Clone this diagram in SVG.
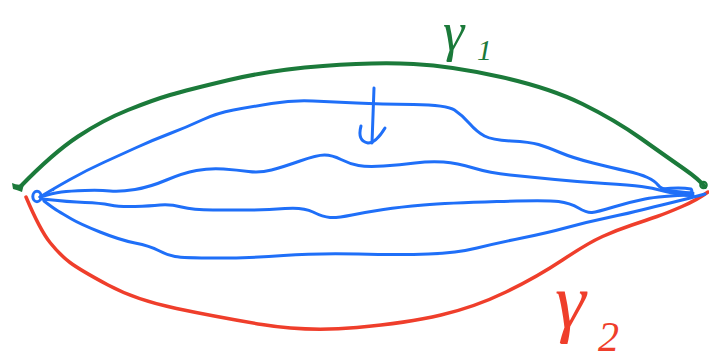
<svg xmlns="http://www.w3.org/2000/svg" width="709" height="361" viewBox="0 0 709 361">
<style>
.g{fill:none;stroke:#1b7a3a;stroke-width:4;stroke-linecap:round;stroke-linejoin:round}
.r{fill:none;stroke:#ef3e2b;stroke-width:3.5;stroke-linecap:round;stroke-linejoin:round}
.b{fill:none;stroke:#1f6ff8;stroke-width:3;stroke-linecap:round;stroke-linejoin:round}
.lbl{font-family:"Liberation Serif","DejaVu Serif",serif;font-style:italic}
</style>
<rect width="709" height="361" fill="#ffffff"/>
<g id="gamma1">
<path class="g" d="M20,187 Q53,153 78,136.5 Q103,120 128,110 Q153,100 170,95 Q187,90 229,80 Q271,70 323,66 Q375,62 413.5,64 Q452,66 501,77 Q550,88 582.5,104 Q615,120 641,138.5 Q667,157 683.5,168.5 Q700,180 705,187"/>
<path d="M12,183 Q18,186 24,184 L22,192 Q17,190 13,189 Z" fill="#1b7a3a"/>
<circle cx="703.5" cy="185" r="3.2" fill="none" stroke="#1b7a3a" stroke-width="2.2"/>
</g>
<g id="gamma2">
<path class="r" d="M26,197 Q40,230 50,242.5 Q60,255 70,262.5 Q80,270 108,285 Q136,300 176.5,308.5 Q217,317 262,324.5 Q307,332 357,327.5 Q407,323 441,315 Q475,307 506,292 Q537,277 562.5,260 Q588,243 602.5,236.5 Q617,230 632,225 Q647,220 657,216.5 Q667,213 682,206.5 Q697,200 708,192"/>
</g>
<g id="homotopy">
<ellipse class="b" cx="37" cy="196.5" rx="4.2" ry="5.2"/>
<circle cx="53" cy="190" r="1.3" fill="#1f6ff8"/>
<path class="b" d="M40,197 Q53,189 70,179.5 Q87,170 103.5,162.5 Q120,155 136.5,147.5 Q153,140 170,133.5 Q187,127 202,120 Q217,113 233.5,110 Q250,107 271.5,103.5 Q293,100 313,101 Q333,102 356.5,103 Q380,104 413.5,104.5 Q447,105 454.5,110 Q462,115 469.5,123.5 Q477,132 484.5,136 Q492,140 511,141 Q530,142 538.5,144.5 Q547,147 560,152.5 Q573,158 593,163 Q613,168 626.5,171 Q640,174 647.5,177.5 Q655,181 658,185 Q661,189 669,190.5 Q677,192 693,193"/>
<path class="b" d="M40,197 Q53,193 61.5,192 Q70,191 85,190.5 Q100,190 110,191 Q120,192 135,189.5 Q150,187 166.5,180 Q183,173 196.5,170.5 Q210,168 223.5,169 Q237,170 248.5,171.5 Q260,173 271.5,170 Q283,167 300,161 Q317,155 324.5,155 Q332,155 341,159.5 Q350,164 358.5,165.5 Q367,167 383.5,166 Q400,165 415,163 Q430,161 443.5,162 Q457,163 473.5,168 Q490,173 510,175 Q530,177 555,179.5 Q580,182 605,183.5 Q630,185 641.5,186.5 Q653,188 661.5,190.5 Q670,193 693,196"/>
<path class="b" d="M42,199 Q70,202 85,202.5 Q100,203 110,205 Q120,207 135,206.5 Q150,206 160,205 Q170,204 181.5,207 Q193,210 213,210 Q233,210 250,210 Q267,210 285,208.5 Q303,207 313,212 Q323,217 330,217.5 Q337,218 352,215 Q367,212 383.5,209.5 Q400,207 423.5,205 Q447,203 497,201.5 Q547,200 558.5,201.5 Q570,203 578.5,208 Q587,213 592,212.5 Q597,212 613.5,207 Q630,202 645,199 Q660,196 693,195"/>
<path class="b" d="M44,201 Q53,208 58,211 Q63,214 71.5,219 Q80,224 100,232 Q120,240 135,243 Q150,246 158.5,250.5 Q167,255 175,256.5 Q183,258 216.5,258 Q250,258 283.5,255.5 Q317,253 358.5,254 Q400,255 428.5,254 Q457,253 477,248 Q497,243 522,238 Q547,233 567,227.5 Q587,222 608.5,217.5 Q630,213 641.5,210 Q653,207 670,203 Q687,199 705,194"/>
<path class="b" d="M662,189 Q680,187 691,189 Q694,193 686,195"/>
</g>
<g id="arrow">
<path class="b" d="M374,88 L372,143"/>
<path class="b" d="M361,126 Q357,141 368,143 Q376,143 385,128"/>
</g>
<g id="labels" class="lbl">
<text x="443" y="50" font-size="54" fill="#1b7a3a">γ<tspan x="477" y="60" font-size="30">1</tspan></text>
<text x="555" y="327" font-size="78" fill="#ef3e2b">γ<tspan x="598" y="351" font-size="42">2</tspan></text>
</g>
</svg>
